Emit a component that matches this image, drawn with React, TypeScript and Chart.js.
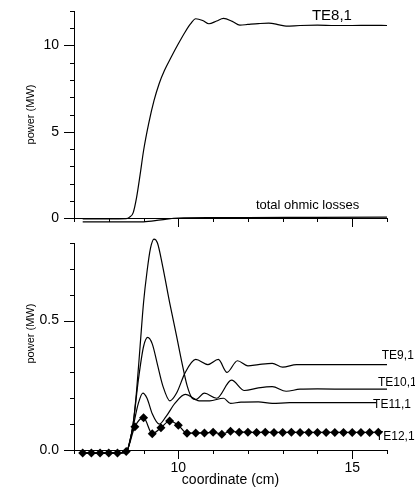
import React, { useEffect, useRef } from 'react';
import { Chart, registerables } from 'chart.js';
Chart.register(...registerables);

// ---------- top panel data ----------
const te8X = [7.25, 8.0, 8.5, 8.6, 8.7, 8.8, 8.9, 9.0, 9.15, 9.3, 9.45, 9.6, 9.8, 10.0, 10.2, 10.35, 10.5, 10.7, 10.88, 11.1, 11.3, 11.55, 11.77, 12.0, 12.3, 12.6, 12.9, 13.1, 13.5, 14.0, 14.5, 15.0, 15.5, 16.0];
const te8Y = [-0.05, -0.05, -0.04, 0.05, 0.3, 1.2, 2.5, 3.9, 5.5, 6.8, 7.8, 8.55, 9.35, 10.1, 10.8, 11.25, 11.55, 11.45, 11.26, 11.42, 11.57, 11.4, 11.18, 11.22, 11.27, 11.3, 11.2, 11.12, 11.16, 11.18, 11.16, 11.16, 11.17, 11.16];
const ohmicX = [7.25, 8.0, 9.0, 9.5, 10.0, 11.0, 12.0, 14.0, 16.0];
const ohmicY = [-0.22, -0.22, -0.22, -0.11, 0.0, 0.02, 0.03, 0.04, 0.05];

// ---------- bottom panel data ----------
const te9X = [7.25, 8.5, 8.6, 8.7, 8.85, 9.0, 9.12, 9.25, 9.4, 9.55, 9.76, 9.95, 10.2, 10.5, 10.85, 11.15, 11.4, 11.7, 12.0, 12.3, 12.7, 13.0, 13.4, 14.0, 15.0, 16.0];
const te9Y = [-0.012, -0.01, 0.03, 0.1, 0.27, 0.40, 0.435, 0.41, 0.33, 0.25, 0.19, 0.22, 0.30, 0.35, 0.33, 0.35, 0.30, 0.345, 0.325, 0.33, 0.335, 0.32, 0.33, 0.33, 0.33, 0.33];
const te10X = [7.25, 8.5, 8.6, 8.7, 8.8, 8.9, 9.0, 9.1, 9.2, 9.3, 9.4, 9.55, 9.75, 9.95, 10.1, 10.25, 10.4, 10.5, 10.75, 11.1, 11.53, 11.9, 12.3, 12.7, 13.1, 13.5, 14.0, 15.0, 16.0];
const te10Y = [-0.012, -0.01, 0.03, 0.1, 0.23, 0.4, 0.57, 0.69, 0.78, 0.815, 0.8, 0.71, 0.57, 0.44, 0.34, 0.25, 0.2, 0.195, 0.22, 0.2, 0.27, 0.23, 0.24, 0.245, 0.227, 0.235, 0.236, 0.235, 0.235];
const te11X = [7.25, 8.5, 8.6, 8.7, 8.85, 8.98, 9.1, 9.25, 9.45, 9.65, 9.9, 10.2, 10.6, 10.9, 11.3, 11.5, 11.8, 12.3, 12.7, 13.2, 14.0, 15.0, 15.7];
const te11Y = [-0.012, -0.01, 0.03, 0.09, 0.18, 0.22, 0.2, 0.14, 0.10, 0.13, 0.18, 0.215, 0.19, 0.19, 0.2, 0.18, 0.185, 0.186, 0.18, 0.183, 0.183, 0.183, 0.183];
const te12X = [7.25, 7.5, 7.75, 8.0, 8.25, 8.5, 8.75, 9.0, 9.25, 9.5, 9.75, 10.0, 10.25, 10.5, 10.75, 11.0, 11.25, 11.5, 11.75, 12.0, 12.25, 12.5, 12.75, 13.0, 13.25, 13.5, 13.75, 14.0, 14.25, 14.5, 14.75, 15.0, 15.25, 15.5, 15.75];
const te12Y = [-0.012, -0.012, -0.012, -0.012, -0.012, -0.006, 0.09, 0.125, 0.063, 0.086, 0.112, 0.096, 0.065, 0.066, 0.066, 0.069, 0.061, 0.072, 0.069, 0.069, 0.068, 0.069, 0.068, 0.068, 0.069, 0.068, 0.068, 0.068, 0.068, 0.068, 0.068, 0.068, 0.068, 0.068, 0.069];

const FONT = '"Liberation Sans", Arial, Helvetica, sans-serif';

const pts = (xs: number[], ys: number[]) => xs.map((x, i) => ({ x, y: ys[i] }));

const lineDs = (data: any, extra: any = {}) => ({
  data,
  borderColor: '#000',
  borderWidth: 1.2,
  pointRadius: 0,
  cubicInterpolationMode: 'monotone',
  clip: false,
  ...extra,
});

const fixY = (w: number) => (s: any) => {
  s.width = w;
  s.paddingTop = 0;
  s.paddingBottom = 0;
  s.paddingLeft = 0;
  s.paddingRight = 0;
};
const fixX = (h: number) => (s: any) => {
  s.height = h;
  s.paddingTop = 0;
  s.paddingBottom = 0;
  s.paddingLeft = 0;
  s.paddingRight = 0;
};

type Label = { text: string; x: number; y: number; size: number };

const decor = (opts: {
  isMajorX: (v: number) => boolean;
  isMajorY: (v: number) => boolean;
  yTitleAt: number;
  labels: Label[];
  xTitle?: { text: string; y: number };
}) => ({
  id: 'decor',
  afterDraw(chart: any) {
    const { ctx, chartArea: ca, scales } = chart;
    const xs = scales.x;
    const ys = scales.y;
    ctx.save();
    ctx.strokeStyle = '#000';
    ctx.lineWidth = 1;
    ctx.beginPath();
    xs.ticks.forEach((t: any) => {
      const px = Math.round(xs.getPixelForValue(t.value)) + 0.5;
      const len = opts.isMajorX(t.value) ? 9 : 4;
      ctx.moveTo(px, ca.bottom);
      ctx.lineTo(px, ca.bottom + len);
    });
    ys.ticks.forEach((t: any) => {
      const py = Math.round(ys.getPixelForValue(t.value)) + 0.5;
      const len = opts.isMajorY(t.value) ? 10 : 4;
      ctx.moveTo(ca.left, py);
      ctx.lineTo(ca.left - len, py);
    });
    ctx.stroke();

    ctx.fillStyle = '#000';
    ctx.save();
    ctx.font = `11px ${FONT}`;
    ctx.translate(31, ys.getPixelForValue(opts.yTitleAt));
    ctx.rotate(-Math.PI / 2);
    ctx.textAlign = 'center';
    ctx.textBaseline = 'middle';
    ctx.fillText('power (MW)', 0, 0);
    ctx.restore();

    if (opts.xTitle) {
      ctx.font = `14px ${FONT}`;
      ctx.textAlign = 'center';
      ctx.textBaseline = 'alphabetic';
      ctx.fillText(opts.xTitle.text, (ca.left + ca.right) / 2, opts.xTitle.y);
    }

    opts.labels.forEach((l) => {
      ctx.font = `${l.size}px ${FONT}`;
      ctx.textAlign = 'left';
      ctx.textBaseline = 'middle';
      ctx.fillText(l.text, xs.getPixelForValue(l.x), ys.getPixelForValue(l.y));
    });
    ctx.restore();
  },
});

const hideGrid = { display: false, drawTicks: false };

export default function App() {
  const topRef = useRef<HTMLCanvasElement>(null);
  const botRef = useRef<HTMLCanvasElement>(null);

  useEffect(() => {
    const common = (extra: any) => ({
      responsive: false,
      animation: false,
      events: [],
      plugins: { legend: { display: false }, tooltip: { enabled: false } },
      ...extra,
    });

    const top = new Chart(topRef.current!, {
      type: 'line',
      data: {
        datasets: [lineDs(pts(te8X, te8Y)), lineDs(pts(ohmicX, ohmicY))],
      },
      options: common({
        layout: { padding: { left: 0, right: 28, top: 11, bottom: 0 } },
        scales: {
          x: {
            type: 'linear', min: 7, max: 16,
            afterFit: fixX(22),
            ticks: { display: false, stepSize: 1 },
            grid: hideGrid,
            border: { display: true, color: '#000', width: 1 },
          },
          y: {
            type: 'linear', min: 0, max: 12,
            afterFit: fixY(74),
            ticks: {
              stepSize: 1, autoSkip: false, padding: 15, color: '#000',
              font: { family: FONT, size: 14 },
              callback: (v: any) => (Math.abs(v % 5) < 1e-9 ? String(v) : ''),
            },
            grid: hideGrid,
            border: { display: true, color: '#000', width: 1 },
          },
        },
      }),
      plugins: [decor({
        isMajorX: (v) => Math.abs(v % 5) < 1e-9,
        isMajorY: (v) => Math.abs(v % 5) < 1e-9,
        yTitleAt: 6,
        labels: [
          { text: 'TE8,1', x: 13.84, y: 11.7, size: 15 },
          { text: 'total ohmic losses', x: 12.23, y: 0.75, size: 13 },
        ],
      }) as any],
    } as any);

    const bot = new Chart(botRef.current!, {
      type: 'line',
      data: {
        datasets: [
          lineDs(pts(te9X, te9Y)),
          lineDs(pts(te10X, te10Y)),
          lineDs(pts(te11X, te11Y)),
          lineDs(pts(te12X, te12Y), {
            pointRadius: 4.5,
            pointStyle: 'rectRot',
            pointBackgroundColor: '#000',
            pointBorderColor: '#000',
            pointBorderWidth: 0,
          }),
        ],
      },
      options: common({
        layout: { padding: { left: 0, right: 28, top: 15, bottom: 0 } },
        scales: {
          x: {
            type: 'linear', min: 7, max: 16,
            afterFit: fixX(37),
            ticks: {
              stepSize: 1, autoSkip: false, maxRotation: 0, padding: 10, color: '#000',
              font: { family: FONT, size: 14 },
              callback: (v: any) => (Math.abs(v % 5) < 1e-9 ? String(v) : ''),
            },
            grid: hideGrid,
            border: { display: true, color: '#000', width: 1 },
          },
          y: {
            type: 'linear', min: 0, max: 0.8,
            afterFit: fixY(74),
            ticks: {
              stepSize: 0.1, autoSkip: false, padding: 15, color: '#000',
              font: { family: FONT, size: 14 },
              callback: (v: any) => (Math.abs(v * 2 - Math.round(v * 2)) < 1e-6 ? Number(v).toFixed(1) : ''),
            },
            grid: hideGrid,
            border: { display: true, color: '#000', width: 1 },
          },
        },
      }),
      plugins: [decor({
        isMajorX: (v) => Math.abs(v % 5) < 1e-9,
        isMajorY: (v) => Math.abs(v * 2 - Math.round(v * 2)) < 1e-6,
        yTitleAt: 0.45,
        xTitle: { text: 'coordinate (cm)', y: 256 },
        labels: [
          { text: 'TE9,1', x: 15.85, y: 0.365, size: 12 },
          { text: 'TE10,1', x: 15.74, y: 0.262, size: 12 },
          { text: 'TE11,1', x: 15.6, y: 0.177, size: 12 },
          { text: 'TE12,1', x: 15.68, y: 0.05, size: 12 },
        ],
      }) as any],
    } as any);

    return () => { top.destroy(); bot.destroy(); };
  }, []);

  return (
    <div style={{ position: 'absolute', left: 0, top: 0, width: 415, height: 487, background: '#fff' }}>
      <canvas ref={topRef} width={415} height={240} style={{ position: 'absolute', left: 0, top: 0 }} />
      <canvas ref={botRef} width={415} height={259} style={{ position: 'absolute', left: 0, top: 228 }} />
    </div>
  );
}
